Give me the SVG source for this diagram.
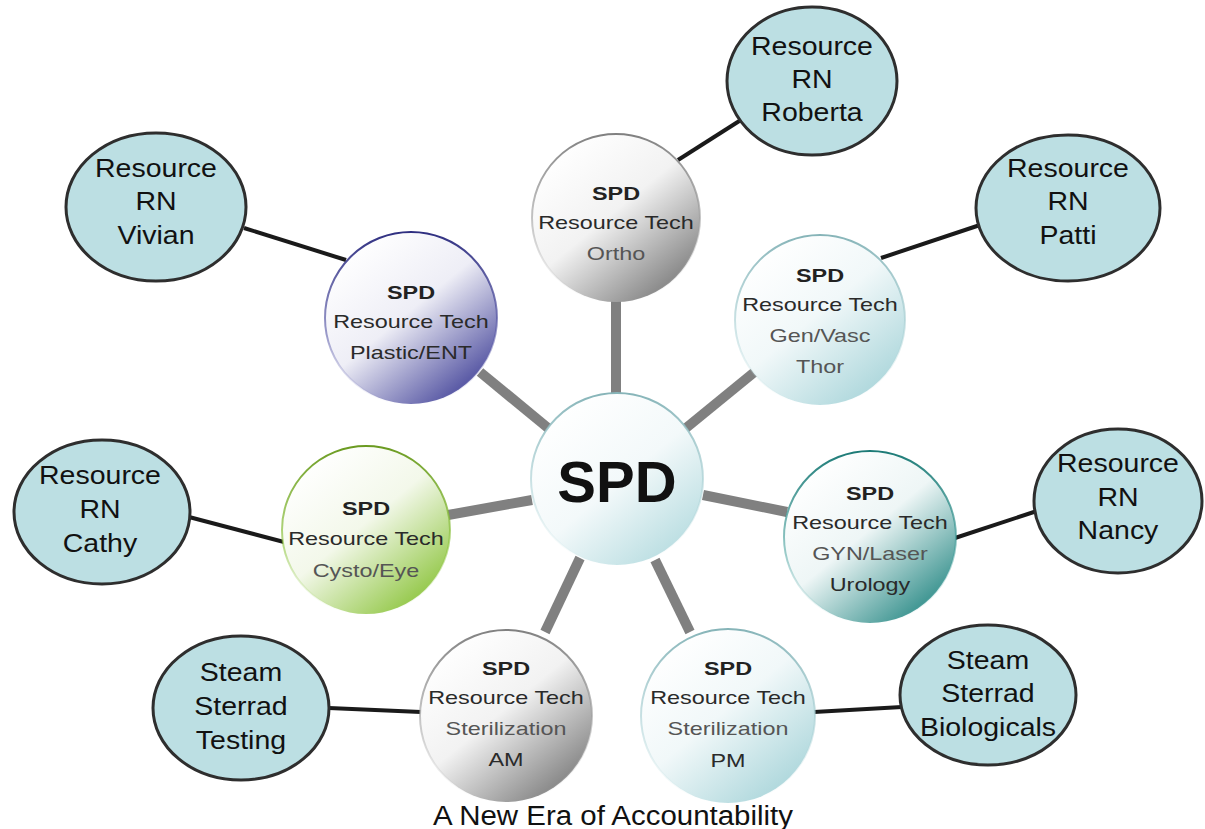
<svg xmlns="http://www.w3.org/2000/svg" width="1205" height="829" viewBox="0 0 1205 829">
  <defs>
    <linearGradient id="gGray" x1="0.15" y1="0.1" x2="0.85" y2="0.95">
      <stop offset="0" stop-color="#ffffff"/>
      <stop offset="0.45" stop-color="#f2f2f2"/>
      <stop offset="1" stop-color="#7c7c7c"/>
    </linearGradient>
    <linearGradient id="gNavy" x1="0.15" y1="0.1" x2="0.85" y2="0.95">
      <stop offset="0" stop-color="#ffffff"/>
      <stop offset="0.45" stop-color="#eeeef6"/>
      <stop offset="1" stop-color="#45459a"/>
    </linearGradient>
    <linearGradient id="gIce" x1="0.15" y1="0.1" x2="0.85" y2="0.95">
      <stop offset="0" stop-color="#ffffff"/>
      <stop offset="0.45" stop-color="#f1f8f9"/>
      <stop offset="1" stop-color="#a9d5da"/>
    </linearGradient>
    <linearGradient id="gGreen" x1="0.15" y1="0.1" x2="0.85" y2="0.95">
      <stop offset="0" stop-color="#ffffff"/>
      <stop offset="0.45" stop-color="#f3f8ea"/>
      <stop offset="1" stop-color="#8cc43c"/>
    </linearGradient>
    <linearGradient id="gTeal" x1="0.15" y1="0.1" x2="0.85" y2="0.95">
      <stop offset="0" stop-color="#ffffff"/>
      <stop offset="0.45" stop-color="#eef6f6"/>
      <stop offset="1" stop-color="#2a8a86"/>
    </linearGradient>
    <linearGradient id="gCore" x1="0.15" y1="0.1" x2="0.85" y2="0.95">
      <stop offset="0" stop-color="#ffffff"/>
      <stop offset="0.5" stop-color="#f3f9fa"/>
      <stop offset="1" stop-color="#b6dce0"/>
    </linearGradient>

    <!-- rims: strong at the top edge, fading towards the bottom -->
    <linearGradient id="rGray" x1="0" y1="0" x2="0" y2="1">
      <stop offset="0" stop-color="#808080"/>
      <stop offset="0.6" stop-color="#a0a0a0" stop-opacity="0.5"/>
      <stop offset="1" stop-color="#c0c0c0" stop-opacity="0"/>
    </linearGradient>
    <linearGradient id="rNavy" x1="0" y1="0" x2="0" y2="1">
      <stop offset="0" stop-color="#2e2e80"/>
      <stop offset="0.6" stop-color="#5a5aa8" stop-opacity="0.6"/>
      <stop offset="1" stop-color="#8080c0" stop-opacity="0"/>
    </linearGradient>
    <linearGradient id="rIce" x1="0" y1="0" x2="0" y2="1">
      <stop offset="0" stop-color="#86b4b8"/>
      <stop offset="0.6" stop-color="#a8d0d4" stop-opacity="0.5"/>
      <stop offset="1" stop-color="#c8e4e6" stop-opacity="0"/>
    </linearGradient>
    <linearGradient id="rGreen" x1="0" y1="0" x2="0" y2="1">
      <stop offset="0" stop-color="#6a9a20"/>
      <stop offset="0.6" stop-color="#8cc43c" stop-opacity="0.6"/>
      <stop offset="1" stop-color="#b0d880" stop-opacity="0"/>
    </linearGradient>
    <linearGradient id="rTeal" x1="0" y1="0" x2="0" y2="1">
      <stop offset="0" stop-color="#1c7a76"/>
      <stop offset="0.6" stop-color="#3a9a96" stop-opacity="0.5"/>
      <stop offset="1" stop-color="#80c0c0" stop-opacity="0"/>
    </linearGradient>

    <style>
      .spoke { stroke: #808080; stroke-width: 10; fill: none; }
      .link { stroke: #1a1a1a; stroke-width: 4; fill: none; }
      .rn { fill: #bcdfe3; stroke: #2e2e2e; stroke-width: 3; }
      .rn-t { font-family: "Liberation Sans", Arial, sans-serif; font-size: 25px; fill: #111; text-anchor: middle; }
      .tech-t { font-family: "Liberation Sans", Arial, sans-serif; font-size: 18px; fill: #2a2a2a; text-anchor: middle; }
      .tech-b { font-weight: bold; fill: #222; }
      .tech-s { fill: #555; }
      .core-t { font-family: "Liberation Sans", Arial, sans-serif; font-size: 58px; font-weight: bold; fill: #111; text-anchor: middle; }
      .cap { font-family: "Liberation Sans", Arial, sans-serif; font-size: 27px; fill: #111; text-anchor: middle; }
    </style>
  </defs>

  <rect width="1205" height="829" fill="#ffffff"/>

  <!-- connectors: grey spokes from the hub, black links to resource nurses -->
  <g id="connectors">
    <line class="spoke" x1="616" y1="300" x2="616" y2="395"/>
    <line class="spoke" x1="480" y1="372" x2="548" y2="428"/>
    <line class="spoke" x1="757" y1="370" x2="686" y2="428"/>
    <line class="spoke" x1="448" y1="515" x2="532" y2="500"/>
    <line class="spoke" x1="703" y1="495" x2="787" y2="512"/>
    <line class="spoke" x1="580" y1="558" x2="545" y2="632"/>
    <line class="spoke" x1="655" y1="560" x2="690" y2="632"/>

    <line class="link" x1="678" y1="160" x2="744" y2="118"/>
    <line class="link" x1="244" y1="228" x2="346" y2="260"/>
    <line class="link" x1="881" y1="258" x2="980" y2="225"/>
    <line class="link" x1="189" y1="517" x2="284" y2="542"/>
    <line class="link" x1="955" y1="538" x2="1040" y2="510"/>
    <line class="link" x1="329" y1="708" x2="421" y2="712"/>
    <line class="link" x1="814" y1="712" x2="902" y2="707"/>
  </g>

  <!-- hub -->
  <g id="hub">
    <circle cx="617" cy="479" r="86" fill="url(#gCore)" stroke="url(#rIce)" stroke-width="2"/>
    <text class="core-t" x="617" y="502">SPD</text>
  </g>

  <!-- resource tech nodes -->
  <g id="tech-ortho">
    <circle cx="616" cy="218" r="84" fill="url(#gGray)" stroke="url(#rGray)" stroke-width="2"/>
    <g transform="translate(616 0) scale(1.3 1)">
      <text class="tech-t tech-b" x="0" y="200">SPD</text>
      <text class="tech-t" x="0" y="229">Resource Tech</text>
      <text class="tech-t tech-s" x="0" y="260">Ortho</text>
    </g>
  </g>

  <g id="tech-plastic">
    <circle cx="411" cy="318" r="86" fill="url(#gNavy)" stroke="url(#rNavy)" stroke-width="2"/>
    <g transform="translate(411 0) scale(1.3 1)">
      <text class="tech-t tech-b" x="0" y="299">SPD</text>
      <text class="tech-t" x="0" y="328">Resource Tech</text>
      <text class="tech-t" x="0" y="359">Plastic/ENT</text>
    </g>
  </g>

  <g id="tech-genvasc">
    <circle cx="820" cy="320" r="85" fill="url(#gIce)" stroke="url(#rIce)" stroke-width="2"/>
    <g transform="translate(820 0) scale(1.3 1)">
      <text class="tech-t tech-b" x="0" y="282">SPD</text>
      <text class="tech-t" x="0" y="311">Resource Tech</text>
      <text class="tech-t tech-s" x="0" y="342">Gen/Vasc</text>
      <text class="tech-t tech-s" x="0" y="373">Thor</text>
    </g>
  </g>

  <g id="tech-cysto">
    <circle cx="366" cy="530" r="84" fill="url(#gGreen)" stroke="url(#rGreen)" stroke-width="2"/>
    <g transform="translate(366 0) scale(1.3 1)">
      <text class="tech-t tech-b" x="0" y="515">SPD</text>
      <text class="tech-t" x="0" y="545">Resource Tech</text>
      <text class="tech-t tech-s" x="0" y="577">Cysto/Eye</text>
    </g>
  </g>

  <g id="tech-gyn">
    <circle cx="870" cy="537" r="86" fill="url(#gTeal)" stroke="url(#rTeal)" stroke-width="2"/>
    <g transform="translate(870 0) scale(1.3 1)">
      <text class="tech-t tech-b" x="0" y="500">SPD</text>
      <text class="tech-t" x="0" y="529">Resource Tech</text>
      <text class="tech-t tech-s" x="0" y="560">GYN/Laser</text>
      <text class="tech-t" x="0" y="591">Urology</text>
    </g>
  </g>

  <g id="tech-am">
    <circle cx="506" cy="716" r="86" fill="url(#gGray)" stroke="url(#rGray)" stroke-width="2"/>
    <g transform="translate(506 0) scale(1.3 1)">
      <text class="tech-t tech-b" x="0" y="675">SPD</text>
      <text class="tech-t" x="0" y="704">Resource Tech</text>
      <text class="tech-t tech-s" x="0" y="735">Sterilization</text>
      <text class="tech-t" x="0" y="766">AM</text>
    </g>
  </g>

  <g id="tech-pm">
    <circle cx="728" cy="716" r="87" fill="url(#gIce)" stroke="url(#rIce)" stroke-width="2"/>
    <g transform="translate(728 0) scale(1.3 1)">
      <text class="tech-t tech-b" x="0" y="675">SPD</text>
      <text class="tech-t" x="0" y="704">Resource Tech</text>
      <text class="tech-t tech-s" x="0" y="735">Sterilization</text>
      <text class="tech-t" x="0" y="767">PM</text>
    </g>
  </g>

  <!-- resource nurses and process owners -->
  <g id="rn-roberta">
    <ellipse class="rn" cx="812" cy="81" rx="85" ry="74"/>
    <g transform="translate(812 0) scale(1.14 1)">
      <text class="rn-t" x="0" y="55">Resource</text>
      <text class="rn-t" x="0" y="88">RN</text>
      <text class="rn-t" x="0" y="121">Roberta</text>
    </g>
  </g>

  <g id="rn-vivian">
    <ellipse class="rn" cx="156" cy="207" rx="90" ry="74"/>
    <g transform="translate(156 0) scale(1.14 1)">
      <text class="rn-t" x="0" y="177">Resource</text>
      <text class="rn-t" x="0" y="210">RN</text>
      <text class="rn-t" x="0" y="244">Vivian</text>
    </g>
  </g>

  <g id="rn-patti">
    <ellipse class="rn" cx="1068" cy="208" rx="92" ry="73"/>
    <g transform="translate(1068 0) scale(1.14 1)">
      <text class="rn-t" x="0" y="177">Resource</text>
      <text class="rn-t" x="0" y="210">RN</text>
      <text class="rn-t" x="0" y="244">Patti</text>
    </g>
  </g>

  <g id="rn-cathy">
    <ellipse class="rn" cx="102" cy="512" rx="88" ry="72"/>
    <g transform="translate(100 0) scale(1.14 1)">
      <text class="rn-t" x="0" y="484">Resource</text>
      <text class="rn-t" x="0" y="518">RN</text>
      <text class="rn-t" x="0" y="552">Cathy</text>
    </g>
  </g>

  <g id="rn-nancy">
    <ellipse class="rn" cx="1118" cy="501" rx="84" ry="72"/>
    <g transform="translate(1118 0) scale(1.14 1)">
      <text class="rn-t" x="0" y="472">Resource</text>
      <text class="rn-t" x="0" y="506">RN</text>
      <text class="rn-t" x="0" y="539">Nancy</text>
    </g>
  </g>

  <g id="steam-testing">
    <ellipse class="rn" cx="241" cy="708" rx="88" ry="72"/>
    <g transform="translate(241 0) scale(1.14 1)">
      <text class="rn-t" x="0" y="681">Steam</text>
      <text class="rn-t" x="0" y="715">Sterrad</text>
      <text class="rn-t" x="0" y="749">Testing</text>
    </g>
  </g>

  <g id="steam-biologicals">
    <ellipse class="rn" cx="988" cy="695" rx="88" ry="70"/>
    <g transform="translate(988 0) scale(1.14 1)">
      <text class="rn-t" x="0" y="669">Steam</text>
      <text class="rn-t" x="0" y="702">Sterrad</text>
      <text class="rn-t" x="0" y="736">Biologicals</text>
    </g>
  </g>

  <text class="cap" x="613" y="825" textLength="360" lengthAdjust="spacingAndGlyphs">A New Era of Accountability</text>
</svg>
